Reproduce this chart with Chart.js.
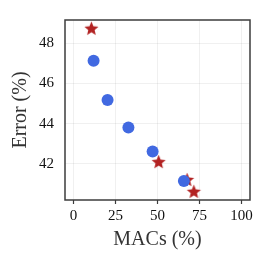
<!DOCTYPE html>
<html>
<head>
<meta charset="utf-8">
<script src="https://cdn.jsdelivr.net/npm/chart.js@4"></script>
<style>
  html, body { margin: 0; padding: 0; background: #fff; }
  #wrap { width: 266px; height: 260px; }
</style>
</head>
<body>
<div id="wrap"><canvas id="macsChart" width="266" height="260"></canvas></div>
<script>
// Datos
const circleMacs = [12.0, 20.3, 32.7, 47.1, 65.7];
const circleError = [47.12, 45.17, 43.8, 42.61, 41.15];
const starMacs = [10.7, 50.7, 67.6, 71.6];
const starError = [48.74, 42.11, 41.22, 40.63];
const xTicks = [0, 25, 50, 75, 100];
const yTicks = [42, 44, 46, 48];

// Estrella rellena de 5 puntas (Chart.js 'star' es un asterisco)
function makeStar(r, color) {
    const c = document.createElement('canvas');
    const s = Math.ceil(r * 2 + 2);
    c.width = s; c.height = s;
    const g = c.getContext('2d');
    const cx = s / 2, cy = s / 2 + r * 0.1;
    const inner = r * 0.45;
    g.beginPath();
    for (let i = 0; i < 10; i++) {
        const rad = i % 2 === 0 ? r : inner;
        const a = -Math.PI / 2 + i * Math.PI / 5;
        const px = cx + rad * Math.cos(a);
        const py = cy + rad * Math.sin(a);
        if (i === 0) g.moveTo(px, py); else g.lineTo(px, py);
    }
    g.closePath();
    g.fillStyle = color;
    g.fill();
    return c;
}

const frame = {
    id: 'frame',
    afterDraw(chart) {
        const a = chart.chartArea;
        const ctx = chart.ctx;
        ctx.save();
        ctx.strokeStyle = '#3c3c3c';
        ctx.lineWidth = 1.5;
        ctx.strokeRect(a.left, a.top, a.right - a.left, a.bottom - a.top);
        ctx.restore();
    }
};

const font = 'Liberation Serif';

const config = {
    type: 'scatter',
    data: {
        datasets: [{
            data: circleMacs.map((x, i) => ({ x: x, y: circleError[i] })),
            backgroundColor: '#4169e1',
            borderWidth: 0,
            pointRadius: 6,
        }, {
            data: starMacs.map((x, i) => ({ x: x, y: starError[i] })),
            pointStyle: makeStar(7.4, '#b22222'),
        }],
    },
    options: {
        responsive: false,
        animation: false,
        layout: { padding: { top: 12, right: 16, left: 9, bottom: 0 } },
        plugins: { legend: { display: false }, tooltip: { enabled: false } },
        scales: {
            x: {
                min: -5,
                max: 105,
                afterBuildTicks: s => { s.ticks = xTicks.map(v => ({ value: v })); },
                grid: { color: 'rgba(0,0,0,0.06)', tickColor: '#3c3c3c', tickLength: 4, tickWidth: 1.2 },
                border: { display: false },
                ticks: { color: '#111', font: { family: font, size: 15 }, padding: 3, maxRotation: 0 },
                title: { display: true, text: 'MACs (%)', color: '#333', font: { family: font, size: 20 }, padding: { top: 0, bottom: 8 } },
            },
            y: {
                min: 40.2,
                max: 49.15,
                afterBuildTicks: s => { s.ticks = yTicks.map(v => ({ value: v })); },
                grid: { color: 'rgba(0,0,0,0.06)', drawTicks: false },
                border: { display: false },
                ticks: { color: '#111', font: { family: font, size: 15 }, padding: 11 },
                title: { display: true, text: 'Error (%)', color: '#333', font: { family: font, size: 20 }, padding: { top: 0, bottom: -5 } },
            },
        },
    },
    plugins: [frame],
};

const ctx = document.getElementById('macsChart').getContext('2d');
new Chart(ctx, config);
</script>
</body>
</html>
